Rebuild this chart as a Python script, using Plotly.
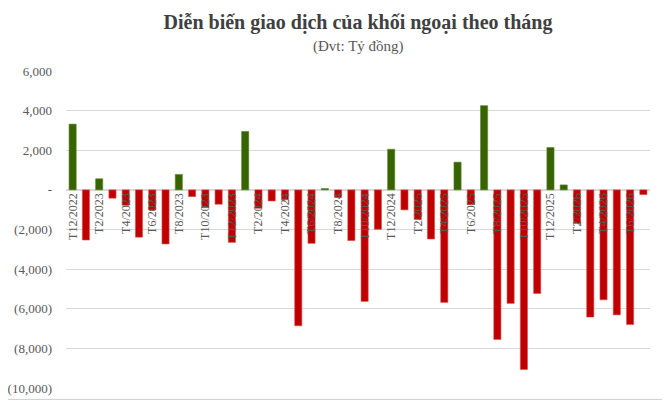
import plotly.graph_objects as go

# Net foreign trading by month (bn VND)
months = [
    "T12/2022",
    "T1/2023", "T2/2023", "T3/2023", "T4/2023", "T5/2023", "T6/2023",
    "T7/2023", "T8/2023", "T9/2023", "T10/2023", "T11/2023", "T12/2023",
    "T1/2024", "T2/2024", "T3/2024", "T4/2024", "T5/2024", "T6/2024",
    "T7/2024", "T8/2024", "T9/2024", "T10/2024", "T11/2024", "T12/2024",
    "T1/2025", "T2/2025", "T3/2025", "T4/2025", "T5/2025", "T6/2025",
    "T7/2025", "T8/2025", "T9/2025", "T10/2025", "T11/2025", "T12/2025",
    "T1/2026", "T2/2026", "T3/2026", "T4/2026", "T5/2026", "T6/2026",
    "T7/2026",
]
net_values = [
    3320,
    -2530, 560, -420, -780, -2390, -1020,
    -2730, 780, -340, -900, -725, -2650,
    2950, -930, -560, -500, -6860, -2700,
    70, -390, -2560, -5630, -1990, 2050,
    -1010, -1500, -2480, -5680, 1400, -750,
    4250, -7550, -5730, -9070, -5230, 2140,
    250, -1700, -6420, -5550, -6310, -6800,
    -240,
]

y_ticks = [6000, 4000, 2000, 0, -2000, -4000, -6000, -8000, -10000]
y_tick_text = ["6,000", "4,000", "2,000", "-", "(2,000)", "(4,000)", "(6,000)", "(8,000)", "(10,000)"]

bar_colors = ["#376300" if v >= 0 else "#C00000" for v in net_values]
line_colors = ["#5B8A2E" if v >= 0 else "#D9534F" for v in net_values]

fig = go.Figure()

fig.add_trace(
    go.Bar(
        x=months,
        y=net_values,
        marker=dict(color=bar_colors, line=dict(color=line_colors, width=0.6)),
        showlegend=False,
    )
)

# position the category axis on the zero line, like Excel does
y_min, y_max = -10000, 6000
zero_pos = (0 - y_min) / (y_max - y_min)

# page body has an 8px margin, so the figure is a bit smaller than the window
fig.update_layout(
    width=662,
    height=402,
    margin=dict(l=58, r=20, t=63, b=22),
    paper_bgcolor="white",
    plot_bgcolor="white",
    font=dict(family="Liberation Serif, DejaVu Serif, serif", color="#595959"),
    bargap=0.46,
    title=dict(
        text="<b>Diễn biến giao dịch của khối ngoại theo tháng</b>",
        x=0.5,
        xref="paper",
        xanchor="center",
        y=0.965,
        yanchor="middle",
        font=dict(size=20, color="#404040"),
    ),
    xaxis=dict(
        type="category",
        tickmode="array",
        tickvals=months[::2],
        ticktext=months[::2],
        tickangle=-90,
        tickfont=dict(size=12, color="#595959"),
        anchor="free",
        position=zero_pos,
        showgrid=False,
        showline=False,
        ticks="",
        automargin=False,
        range=[-0.5, len(months) - 0.5],
    ),
    yaxis=dict(
        range=[y_min, y_max],
        tickmode="array",
        tickvals=y_ticks,
        ticktext=y_tick_text,
        tickfont=dict(size=13, color="#595959"),
        showgrid=True,
        gridcolor="#D9D9D9",
        gridwidth=1,
        zeroline=True,
        zerolinecolor="#D9D9D9",
        zerolinewidth=1.5,
        showline=False,
        automargin=False,
        ticklabelstandoff=13,
    ),
    annotations=[
        dict(
            text="(Đvt: Tỷ đồng)",
            xref="paper",
            yref="paper",
            x=0.5,
            y=1.078,
            xanchor="center",
            yanchor="middle",
            showarrow=False,
            font=dict(size=15, color="#595959"),
        )
    ],
    shapes=[
        # light border round the whole chart area
        dict(
            type="rect",
            xref="paper",
            yref="paper",
            x0=-0.108,
            x1=1.022,
            y0=-0.036,
            y1=1.219,
            line=dict(color="#CFCFCF", width=1),
            layer="above",
        )
    ],
)

fig.write_html("out.html")
